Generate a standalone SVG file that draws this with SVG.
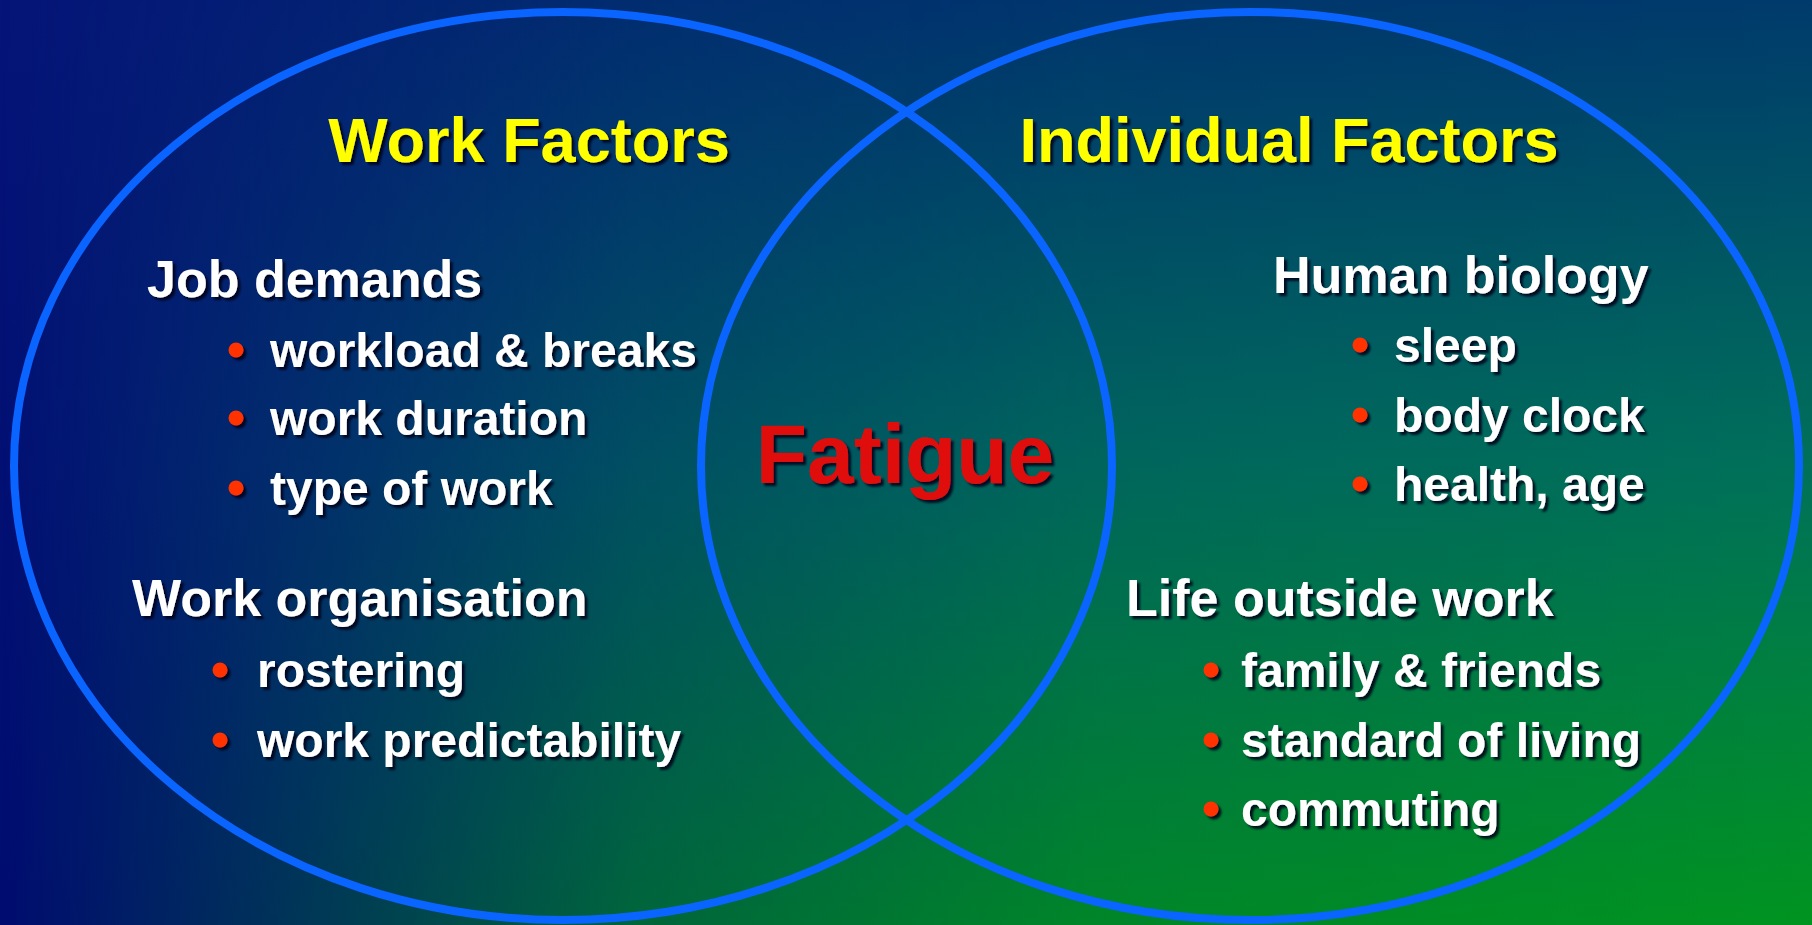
<svg xmlns="http://www.w3.org/2000/svg" width="1812" height="925" viewBox="0 0 1812 925">
  <defs>
    <linearGradient id="base" x1="0" y1="0" x2="0" y2="1">
      <stop offset="0" stop-color="#051478"/>
      <stop offset="1" stop-color="#000c70"/>
    </linearGradient>
    <linearGradient id="colR" x1="0" y1="0" x2="0" y2="1">
      <stop offset="0" stop-color="#003a6c"/>
      <stop offset="0.5" stop-color="#00705a"/>
      <stop offset="1" stop-color="#009420"/>
    </linearGradient>
    <linearGradient id="ramp" x1="0" y1="0" x2="1" y2="0">
      <stop offset="0" stop-color="#000000"/>
      <stop offset="0.35" stop-color="#a8a8a8"/>
      <stop offset="0.6" stop-color="#e4e4e4"/>
      <stop offset="1" stop-color="#ffffff"/>
    </linearGradient>
    <mask id="rampMask" maskUnits="userSpaceOnUse" x="0" y="0" width="1812" height="925">
      <rect x="0" y="0" width="1812" height="925" fill="url(#ramp)"/>
    </mask>
    <filter id="shadow" x="-10%" y="-20%" width="120%" height="150%">
      <feDropShadow dx="3" dy="3" stdDeviation="0.8" flood-color="#000018" flood-opacity="0.85"/>
    </filter>
    <style>
      .ring { fill: none; stroke: #0a64ff; stroke-width: 8; }
      .title { font-family: "Liberation Sans", Arial, sans-serif; font-weight: bold; font-size: 63px; fill: #ffff00; text-anchor: middle; }
      .head { font-family: "Liberation Sans", Arial, sans-serif; font-weight: bold; font-size: 52px; fill: #ffffff; }
      .item { font-family: "Liberation Sans", Arial, sans-serif; font-weight: bold; font-size: 48px; fill: #ffffff; }
      .dot { fill: #ff3300; }
      .center { font-family: "Liberation Sans", Arial, sans-serif; font-weight: bold; font-size: 84px; fill: #e01010; text-anchor: middle; }
    </style>
  </defs>

  <rect x="0" y="0" width="1812" height="925" fill="url(#base)"/>
  <rect x="0" y="0" width="1812" height="925" fill="url(#colR)" mask="url(#rampMask)"/>

  <g id="work-factors-circle">
    <ellipse class="ring" cx="563" cy="466" rx="549" ry="454"/>
  </g>
  <g id="individual-factors-circle">
    <ellipse class="ring" cx="1250" cy="466" rx="549" ry="454"/>
  </g>

  <g id="work-factors" filter="url(#shadow)">
    <text class="title" x="529" y="162">Work Factors</text>
    <text class="head" x="147" y="297">Job demands</text>
    <circle class="dot" cx="236" cy="350" r="7.5"/>
    <text class="item" x="270" y="367">workload &amp; breaks</text>
    <circle class="dot" cx="236" cy="418" r="7.5"/>
    <text class="item" x="270" y="435">work duration</text>
    <circle class="dot" cx="236" cy="488" r="7.5"/>
    <text class="item" x="270" y="505">type of work</text>
    <text class="head" x="132" y="616">Work organisation</text>
    <circle class="dot" cx="220" cy="670" r="7.5"/>
    <text class="item" x="257" y="687">rostering</text>
    <circle class="dot" cx="220" cy="740" r="7.5"/>
    <text class="item" x="257" y="757">work predictability</text>
  </g>

  <g id="individual-factors" filter="url(#shadow)">
    <text class="title" x="1289" y="162">Individual Factors</text>
    <text class="head" x="1273" y="293">Human biology</text>
    <circle class="dot" cx="1360" cy="345" r="7.5"/>
    <text class="item" x="1394" y="362">sleep</text>
    <circle class="dot" cx="1360" cy="415" r="7.5"/>
    <text class="item" x="1394" y="432">body clock</text>
    <circle class="dot" cx="1360" cy="484" r="7.5"/>
    <text class="item" x="1394" y="501">health, age</text>
    <text class="head" x="1126" y="616">Life outside work</text>
    <circle class="dot" cx="1211" cy="670" r="7.5"/>
    <text class="item" x="1241" y="687">family &amp; friends</text>
    <circle class="dot" cx="1211" cy="740" r="7.5"/>
    <text class="item" x="1241" y="757">standard of living</text>
    <circle class="dot" cx="1211" cy="809" r="7.5"/>
    <text class="item" x="1241" y="826">commuting</text>
  </g>

  <g id="fatigue" filter="url(#shadow)">
    <text class="center" x="905" y="483">Fatigue</text>
  </g>
</svg>
